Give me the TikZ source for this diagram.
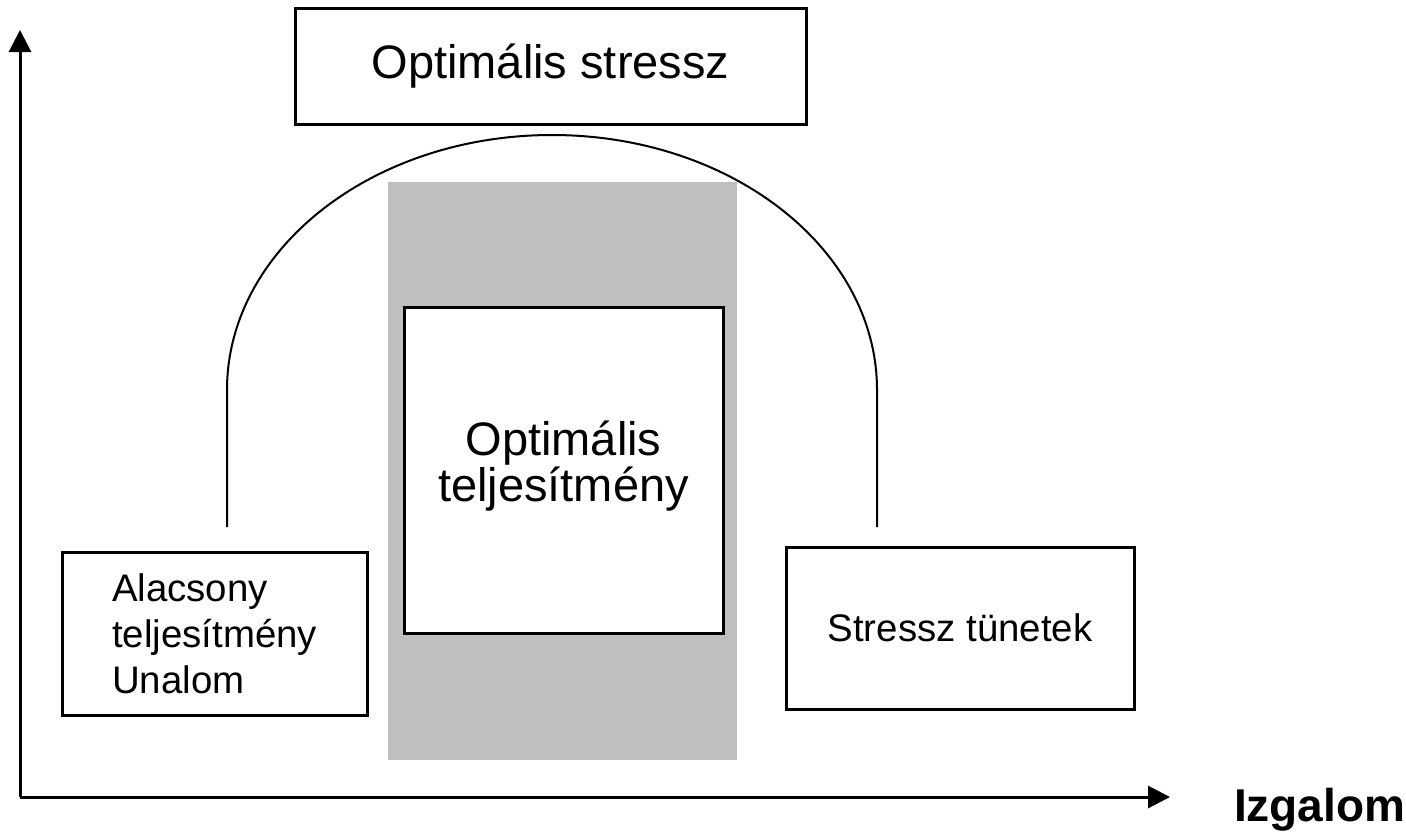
\documentclass[tikz,border=0pt]{standalone}
\usepackage{fontspec}
\setmainfont{Liberation Sans}
\usetikzlibrary{arrows.meta,positioning}

\begin{document}
\begin{tikzpicture}[
    x=0.5pt, y=-0.5pt,
    box/.style={rectangle, draw, line width=1.5pt, fill=white, align=center, inner sep=0pt},
    zonebox/.style={rectangle, fill=black!25, inner sep=0pt},
    axis/.style={-{Triangle[length=11pt, width=11pt]}, line width=1.5pt},
    curve/.style={line width=1pt},
    bigtext/.style={font=\fontsize{23.5}{22}\selectfont},
    smalltext/.style={font=\fontsize{19.2}{23}\selectfont}
]
\useasboundingbox (0,0) rectangle (1406,831);

% Axes
\coordinate (origin) at (20,797);
\coordinate (ytip) at (20,30);
\coordinate (xtip) at (1170,797);
\draw[axis] (origin) -- (ytip);
\draw[axis] (origin) -- (xtip);
\node[anchor=base west, font=\fontsize{23}{26}\selectfont\bfseries] (xlabel) at (1227,821) {Izgalom};

% Optimal zone (grey band)
\node[zonebox, minimum width=174.5pt, minimum height=289pt] (zone) at (562.5,471) {};

% Performance curve
\coordinate (arcL) at (227,527);
\coordinate (arcR) at (877,527);
\draw[curve] (arcL) -- ++(0,-137) arc[start angle=180, end angle=360, x radius=325, y radius=255] -- (arcR);

% Top box
\node[box, bigtext, minimum width=255.5pt, minimum height=58pt] (stress) at (550.5,66) {Optimális stressz};

% Middle box
\node[box, bigtext, minimum width=159.5pt, minimum height=163pt, text depth=9pt] (optimal) at (563.5,470) {Optimális\\teljesítmény};

% Side boxes
\node[box, smalltext, align=left, minimum width=152.5pt, minimum height=81.5pt] (low) at (214.5,633.5) {Alacsony\\teljesítmény\\Unalom};
\node[box, smalltext, minimum width=174pt, minimum height=81pt] (symptoms) at (960,628) {Stressz tünetek};

\end{tikzpicture}
\end{document}
